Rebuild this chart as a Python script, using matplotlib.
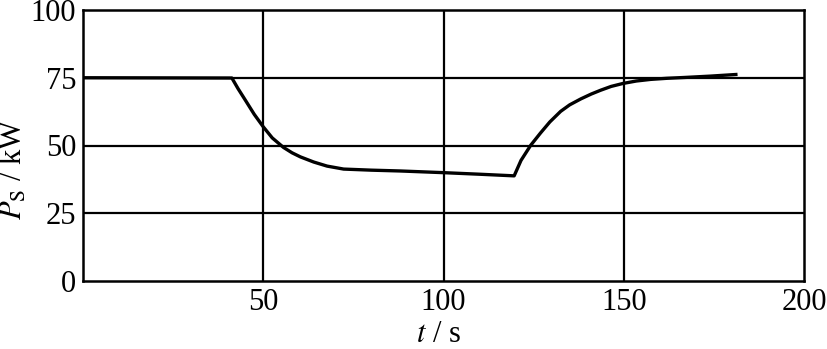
import numpy as np
import matplotlib
matplotlib.use('Agg')
import matplotlib.pyplot as plt

plt.rcParams['font.family'] = 'Liberation Serif'
plt.rcParams['mathtext.fontset'] = 'stix'

# curve
t = [0, 41.3, 43, 45, 47.5, 50, 52.5, 55.6, 58, 60.3, 64, 67.7, 72.3, 80, 88,
     99.6, 110, 119.6, 121.5, 124.2, 126.9, 129.5, 132.5, 135, 138.1, 141,
     143.6, 146.5, 149.8, 153.5, 157.5, 162, 166.8, 174, 181.1]
ps = [75, 74.9, 71, 66.8, 61.5, 56.9, 52.8, 49.3, 47.3, 45.8, 43.9, 42.4, 41.3,
      40.9, 40.6, 40.0, 39.4, 38.8, 44.5, 50.1, 54.6, 58.7, 62.6, 65.0, 67.2,
      69.0, 70.4, 71.8, 72.9, 73.8, 74.4, 74.8, 75.1, 75.6, 76.2]

xticks = [50, 100, 150, 200]
yticks = [0, 25, 50, 75, 100]

fig = plt.figure(figsize=(8.27, 3.49), dpi=100)
ax = fig.add_axes([83/827, 1-281/349, 721/827, 271/349])

for xv in xticks[:-1]:
    ax.axvline(xv, color='k', lw=1.6, zorder=1)
for yv in yticks[1:-1]:
    ax.axhline(yv, color='k', lw=1.6, zorder=1)

ax.plot(t, ps, color='k', lw=2.4, zorder=2, solid_joinstyle='round')

ax.set_xlim(0, 200)
ax.set_ylim(0, 100)
ax.set_xticks(xticks)
ax.set_yticks(yticks)
ax.tick_params(length=0, labelsize=22, pad=5)
for s in ax.spines.values():
    s.set_linewidth(1.8)

fig.text(438/827, 1-335/349, r'$t$ / s', fontsize=22, ha='center', va='center')
fig.text(14/827, 1-169/349, r'$P_{\mathrm{S}}$ / kW', fontsize=22,
         rotation=90, ha='center', va='center')

fig.savefig('out.png', dpi=100)
